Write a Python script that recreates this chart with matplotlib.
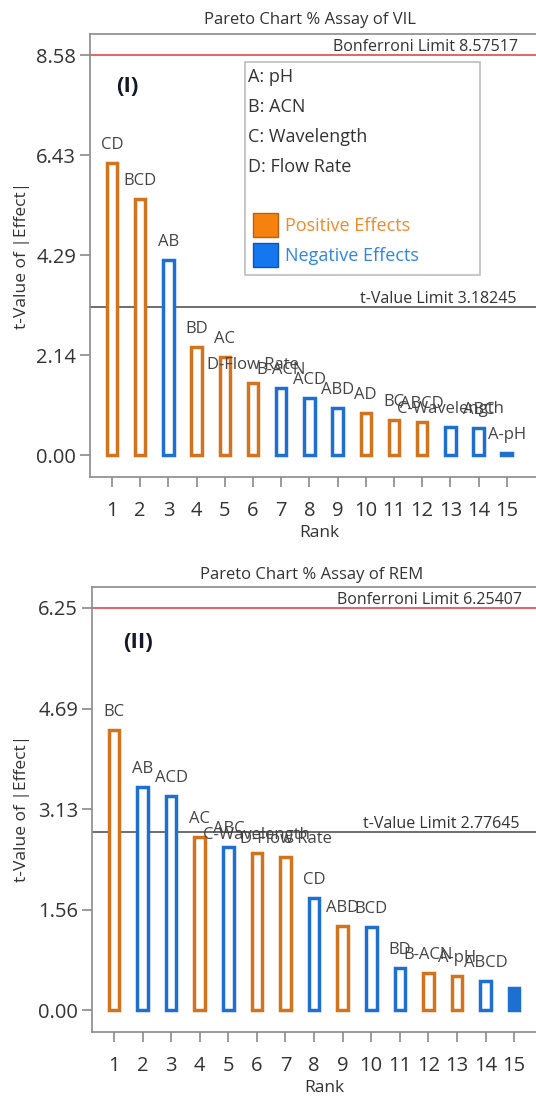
import matplotlib
matplotlib.use("Agg")
import matplotlib.pyplot as plt
from matplotlib.patches import Rectangle
import numpy as np

plt.rcParams['font.family'] = ['Open Sans', 'DejaVu Sans']

W, H = 536, 1096
DPI = 100

# ---------------- data ----------------
ranks = list(range(1, 16))

vil_terms = ["CD", "BCD", "AB", "BD", "AC", "D-Flow Rate", "B-ACN", "ACD", "ABD", "AD",
             "BC", "ABCD", "C-Wavelength", "ABC", "A-pH"]
vil_tvalues = [6.27, 5.49, 4.18, 2.32, 2.10, 1.55, 1.44, 1.22, 1.01, 0.90,
               0.75, 0.71, 0.60, 0.58, 0.04]
vil_sign = ["+", "+", "-", "+", "+", "+", "-", "-", "-", "+", "+", "+", "-", "-", "-"]
vil_bonferroni = 8.57517
vil_tlimit = 3.18245

rem_terms = ["BC", "AB", "ACD", "AC", "ABC", "C-Wavelength", "D-Flow Rate", "CD", "ABD", "BCD",
             "BD", "B-ACN", "A-pH", "ABCD", ""]
rem_tvalues = [4.35, 3.47, 3.33, 2.69, 2.54, 2.44, 2.38, 1.74, 1.31, 1.29,
               0.65, 0.57, 0.53, 0.45, 0.34]
rem_sign = ["+", "-", "-", "+", "-", "+", "+", "-", "+", "-", "-", "+", "+", "-", "-"]
rem_bonferroni = 6.25407
rem_tlimit = 2.77645

factor_legend = ["A: pH", "B: ACN", "C: Wavelength", "D: Flow Rate"]

ORANGE = "#D2731E"
BLUE = "#1E6FD2"
TXT = "#333333"
GRID = "#8a8a8a"


def fx(px):
    return px / W


def fy(py):
    return 1 - py / H


fig = plt.figure(figsize=(W / DPI, H / DPI), dpi=DPI)


def make_panel(ax_px, xlim, ylim, terms, vals, signs, bonf, tlim, title, title_xy,
               tag, tag_xy, ylab_xy, bonf_x, tlim_x, filled_last=False):
    left, top, right, bottom = ax_px
    ax = fig.add_axes([fx(left), fy(bottom), (right - left) / W, (bottom - top) / H])
    cols = [ORANGE if s == "+" else BLUE for s in signs]
    bars = ax.bar(ranks, vals, width=0.37, facecolor="white", edgecolor=cols,
                  linewidth=2.5, zorder=3)
    if filled_last:
        bars[-1].set_facecolor(cols[-1])
    for r, v, t in zip(ranks, vals, terms):
        if t:
            ax.annotate(t, (r, v), xytext=(0, 13), textcoords="offset points",
                        ha="center", va="center", fontsize=12, color="#444444",
                        zorder=4)
    ax.axhline(bonf, color="#E34848", lw=1.2, zorder=2)
    ax.axhline(tlim, color="#555555", lw=1.2, zorder=2)
    ax.text(bonf_x, bonf, f"Bonferroni Limit {bonf:.5f}", ha="left", va="bottom",
            fontsize=11.5, color=TXT, clip_on=False)
    ax.text(tlim_x, tlim, f"t-Value Limit {tlim:.5f}", ha="left", va="bottom",
            fontsize=11.5, color=TXT, clip_on=False)
    ax.set_xlim(*xlim)
    ax.set_ylim(*ylim)
    yt = [bonf * i / 4 for i in range(5)]
    ax.set_yticks(yt)
    ax.set_yticklabels([f"{v:.2f}" for v in yt])
    ax.set_xticks(ranks)
    ax.set_xticklabels([str(r) for r in ranks])
    ax.tick_params(axis="both", direction="out", length=7, width=1.2, color=GRID,
                   labelsize=14.5, labelcolor=TXT)
    ax.tick_params(axis="y", pad=3)
    ax.tick_params(axis="x", pad=10)
    for sp in ax.spines.values():
        sp.set_color(GRID)
        sp.set_linewidth(1.2)
    ax.set_xlabel("Rank", fontsize=12.5, color=TXT, labelpad=3)
    fig.text(fx(title_xy[0]), fy(title_xy[1]), title, ha="center", va="center",
             fontsize=12, color=TXT)
    fig.text(fx(tag_xy[0]), fy(tag_xy[1]), tag, ha="center", va="center",
             fontsize=16, fontweight="bold", color="#14182a")
    fig.text(fx(ylab_xy[0]), fy(ylab_xy[1]), "t-Value of |Effect|", ha="center",
             va="center", rotation=90, fontsize=12.5, color=TXT)
    return ax


ax1 = make_panel((90, 34, 549, 477), (0.22, 16.5), (-0.47, 9.03),
                 vil_terms, vil_tvalues, vil_sign, vil_bonferroni, vil_tlimit,
                 "Pareto Chart % Assay of VIL", (310, 20), "(I)", (127, 86), (22, 255),
                 8.84, 9.8)
ax2 = make_panel((92, 587, 557, 1032), (0.23, 16.5), (-0.34, 6.58),
                 rem_terms, rem_tvalues, rem_sign, rem_bonferroni, rem_tlimit,
                 "Pareto Chart % Assay of REM", (312, 575), "(II)", (138, 642), (22, 808),
                 8.8, 9.7, filled_last=True)

# legend box in panel I
fig.patches.append(Rectangle((fx(245), fy(275)), fx(480) - fx(245), fy(62) - fy(275),
                             transform=fig.transFigure, facecolor="white",
                             edgecolor="#bdbdbd", lw=1.2, zorder=5))
for i, s in enumerate(factor_legend):
    fig.text(fx(248), fy(77 + 30 * i), s, ha="left", va="center", fontsize=13,
             color=TXT, zorder=6)
for yc, fc, ec, lab, tc in [(225, "#F5820F", "#B85F10", "Positive Effects", "#F08A2A"),
                            (255, "#1477F0", "#0E55B0", "Negative Effects", "#2E86E6")]:
    fig.patches.append(Rectangle((fx(253), fy(yc + 12)), fx(278) - fx(253), fy(yc - 12) - fy(yc + 12),
                                 transform=fig.transFigure, facecolor=fc, edgecolor=ec,
                                 lw=1, zorder=6))
    fig.text(fx(285), fy(yc + 1), lab, ha="left", va="center", fontsize=13,
             color=tc, zorder=6)

fig.savefig("out.png", dpi=DPI)
